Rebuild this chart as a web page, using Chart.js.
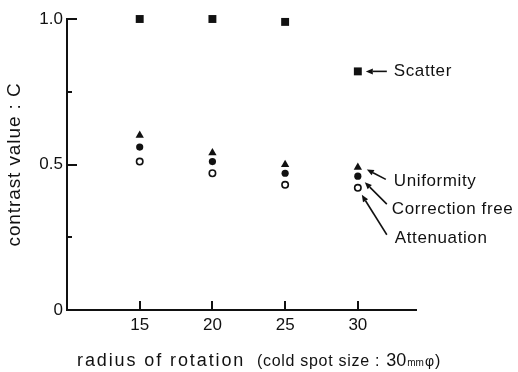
<!DOCTYPE html>
<html>
<head>
<meta charset="utf-8">
<script src="https://cdn.jsdelivr.net/npm/chart.js@4/dist/chart.umd.min.js"></script>
<style>
  html, body { margin: 0; padding: 0; background: #fff; }
  #wrap { width: 518px; height: 372px; position: relative; }
</style>
</head>
<body>
<div id="wrap"><canvas id="c" width="518" height="372"></canvas></div>
<script>
// Contrast value C against radius of rotation, four correction methods
const radius = [15, 20, 25, 30];
const scatterC = [1.00, 1.00, 0.99, 0.82];
const uniformityC = [0.60, 0.54, 0.50, 0.49];
const correctionFreeC = [0.56, 0.51, 0.47, 0.46];
const attenuationC = [0.51, 0.47, 0.43, 0.42];
const seriesNames = ['Scatter', 'Uniformity', 'Correction free', 'Attenuation'];

const xTicks = [15, 20, 25, 30];
const yMajorTicks = [0, 0.5, 1.0];
const yMinorTicks = [0.25, 0.75];
const yTickLabels = ['0', '0.5', '1.0'];

const INK = '#111';
const NARROW = '"Liberation Sans Narrow", "Liberation Sans", Arial, sans-serif';
const SANS = '"Liberation Sans", Arial, sans-serif';

function points(values) {
  return radius.map((r, i) => ({ x: r, y: values[i] }));
}

// Callout placement for each series, offsets from its point at the last radius
const callouts = [
  { series: 0, tip: [8, 0],  tail: [29, 0],  text: [36, 0] },
  { series: 1, tip: [9, 2],  tail: [28, 12], text: [36, 14] },
  { series: 2, tip: [7, 6],  tail: [29, 28], text: [34, 33] },
  { series: 3, tip: [4, 7],  tail: [29, 47], text: [37, 51] }
];

function arrow(ctx, x0, y0, x1, y1) {
  const ang = Math.atan2(y1 - y0, x1 - x0);
  const hl = 7, hw = 3;
  const bx = x1 - hl * Math.cos(ang), by = y1 - hl * Math.sin(ang);
  ctx.beginPath();
  ctx.moveTo(x0, y0);
  ctx.lineTo(bx, by);
  ctx.stroke();
  ctx.beginPath();
  ctx.moveTo(x1, y1);
  ctx.lineTo(bx + hw * Math.sin(ang), by - hw * Math.cos(ang));
  ctx.lineTo(bx - hw * Math.sin(ang), by + hw * Math.cos(ang));
  ctx.closePath();
  ctx.fill();
}

const decor = {
  id: 'decor',
  afterDraw(chart) {
    const ctx = chart.ctx;
    const xs = chart.scales.x, ys = chart.scales.y;
    const area = chart.chartArea;
    ctx.save();
    ctx.strokeStyle = INK;
    ctx.fillStyle = INK;
    ctx.lineWidth = 2;
    ctx.lineCap = 'butt';

    // inward tick marks on both axes
    ctx.beginPath();
    yMajorTicks.forEach(v => {
      const y = Math.round(ys.getPixelForValue(v));
      ctx.moveTo(area.left, y); ctx.lineTo(area.left + 10, y);
    });
    yMinorTicks.forEach(v => {
      const y = Math.round(ys.getPixelForValue(v));
      ctx.moveTo(area.left, y); ctx.lineTo(area.left + 5, y);
    });
    xTicks.forEach(v => {
      const x = Math.round(xs.getPixelForValue(v));
      ctx.moveTo(x, area.bottom); ctx.lineTo(x, area.bottom - 9);
    });
    ctx.stroke();

    // callouts naming each series
    ctx.lineWidth = 1.6;
    const last = radius.length - 1;
    ctx.font = '17px ' + SANS;
    ctx.letterSpacing = '0.6px';
    ctx.textBaseline = 'middle';
    ctx.textAlign = 'left';
    callouts.forEach(c => {
      const ds = chart.data.datasets[c.series];
      const px = xs.getPixelForValue(ds.data[last].x);
      const py = ys.getPixelForValue(ds.data[last].y);
      arrow(ctx, px + c.tail[0], py + c.tail[1], px + c.tip[0], py + c.tip[1]);
      ctx.fillText(seriesNames[c.series], px + c.text[0], py + c.text[1]);
    });

    // y axis title
    ctx.save();
    ctx.translate(15, (area.top + area.bottom) / 2);
    ctx.rotate(-Math.PI / 2);
    ctx.textAlign = 'center';
    ctx.font = '19px ' + SANS;
    ctx.letterSpacing = '0.9px';
    ctx.fillText('contrast value : C', 0, 0);
    ctx.restore();

    // x axis title with the spot-size note
    ctx.textAlign = 'left';
    ctx.textBaseline = 'alphabetic';
    const base = 366;
    let x = area.left + 10;
    ctx.font = '18px ' + SANS;
    ctx.letterSpacing = '1.9px';
    ctx.fillText('radius of rotation', x, base);
    x = area.left + 190;
    const parts = [
      ['(cold spot size : ', '16px ' + SANS, '0.7px'],
      ['30', '18px ' + NARROW, '0px'],
      ['mm', '10px ' + SANS, '0px'],
      ['\u03C6', '14px ' + SANS, '0px'],
      [')', '16px ' + SANS, '0px']
    ];
    parts.forEach(([t, f, ls]) => {
      ctx.font = f;
      ctx.letterSpacing = ls;
      ctx.fillText(t, x, base);
      x += ctx.measureText(t).width + 1;
    });
    ctx.restore();
  }
};

new Chart(document.getElementById('c'), {
  type: 'scatter',
  data: {
    datasets: [
      { label: seriesNames[0], data: points(scatterC), pointStyle: 'rect', pointRadius: 5.6,
        backgroundColor: INK, borderColor: INK, borderWidth: 0 },
      { label: seriesNames[1], data: points(uniformityC), pointStyle: 'triangle', pointRadius: 4.8,
        backgroundColor: INK, borderColor: INK, borderWidth: 0 },
      { label: seriesNames[2], data: points(correctionFreeC), pointStyle: 'circle', pointRadius: 3.6,
        backgroundColor: INK, borderColor: INK, borderWidth: 0 },
      { label: seriesNames[3], data: points(attenuationC), pointStyle: 'circle', pointRadius: 3.2,
        backgroundColor: '#fff', borderColor: INK, borderWidth: 1.6 }
    ]
  },
  options: {
    responsive: false,
    animation: false,
    clip: false,
    layout: { padding: { top: 19, right: 102, bottom: 0, left: 0 } },
    plugins: { legend: { display: false }, tooltip: { enabled: false } },
    elements: { point: { hoverRadius: 0 } },
    scales: {
      x: {
        type: 'linear', min: 10, max: 34,
        afterBuildTicks: s => { s.ticks = xTicks.map(v => ({ value: v })); },
        afterFit: s => { s.height = 62; },
        grid: { display: false, drawTicks: false },
        border: { display: true, color: INK, width: 2 },
        ticks: { color: INK, font: { family: NARROW, size: 17 }, padding: 5, maxRotation: 0,
                 callback: v => String(v) }
      },
      y: {
        type: 'linear', min: 0, max: 1,
        afterBuildTicks: s => {
          s.ticks = yMajorTicks.concat(yMinorTicks).sort((a, b) => a - b).map(v => ({ value: v }));
        },
        afterFit: s => { s.width = 67; },
        grid: { display: false, drawTicks: false },
        border: { display: true, color: INK, width: 2 },
        ticks: { color: INK, font: { family: NARROW, size: 17 }, padding: 4,
                 callback: v => { const i = yMajorTicks.indexOf(v); return i < 0 ? '' : yTickLabels[i]; } }
      }
    }
  },
  plugins: [decor]
});
</script>
</body>
</html>
